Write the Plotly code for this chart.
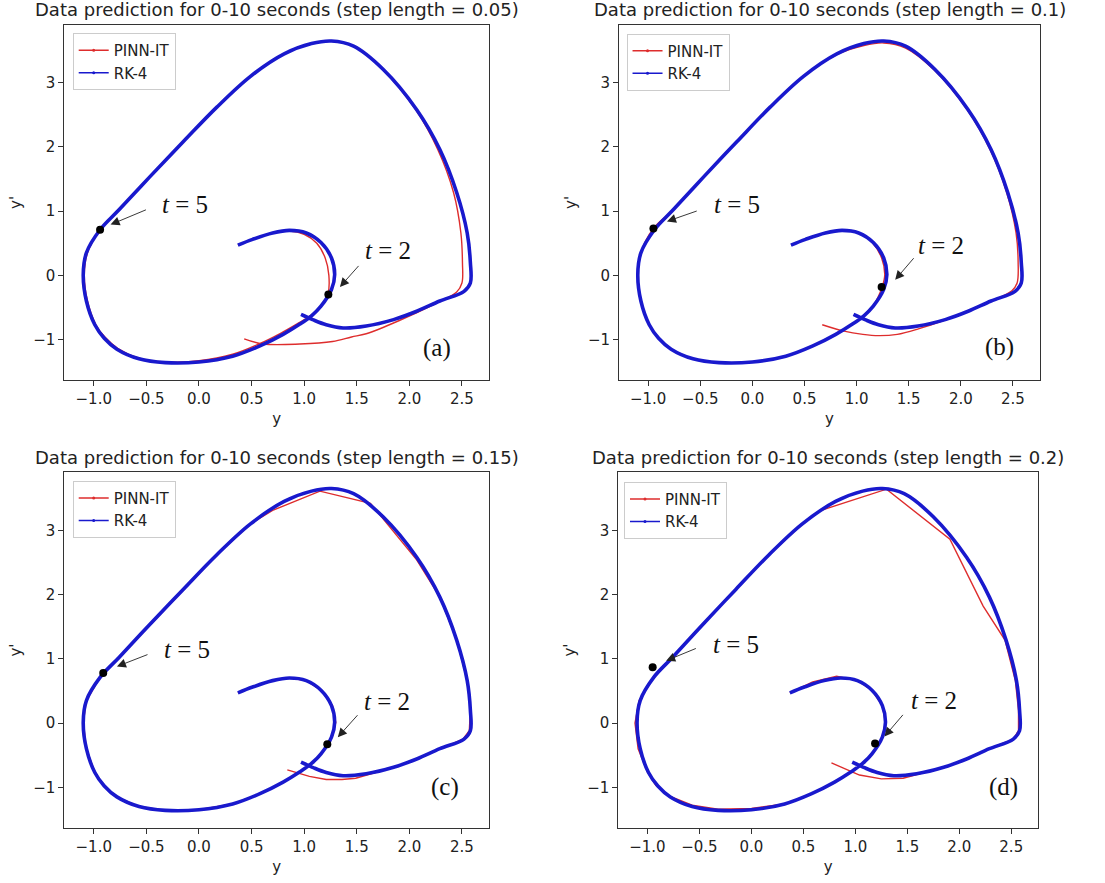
import plotly.graph_objects as go

# Reference trajectory (RK-4), phase plane y vs y'
rk4_y = [0.37, 0.51, 0.70, 0.86, 1.02, 1.16, 1.26, 1.29, 1.26, 1.16, 1.07, 0.96, 0.80, 0.58,
         0.32, 0.00, -0.32, -0.57, -0.78, -0.90, -0.99, -1.07, -1.10, -1.07, -0.94, -0.76, -0.47,
         -0.15, 0.17, 0.49, 0.81, 1.07, 1.26, 1.47, 1.75, 2.07, 2.29, 2.45, 2.55, 2.58, 2.58,
         2.52, 2.29, 2.07, 1.85, 1.59, 1.37, 1.21, 1.08, 0.97]
rk4_dy = [0.47, 0.56, 0.66, 0.70, 0.66, 0.51, 0.27, 0.01, -0.22, -0.48, -0.63, -0.76, -0.92, -1.10,
          -1.26, -1.35, -1.36, -1.30, -1.15, -0.98, -0.77, -0.40, 0.01, 0.35, 0.71, 1.02, 1.53,
          2.08, 2.62, 3.10, 3.45, 3.61, 3.65, 3.57, 3.21, 2.58, 1.96, 1.29, 0.66, 0.20, -0.12,
          -0.25, -0.40, -0.56, -0.69, -0.79, -0.82, -0.77, -0.69, -0.61]

# PINN-IT predictions, step length 0.05
pinn_a_y = [0.37, 0.51, 0.70, 0.86, 1.00, 1.12, 1.20, 1.235, 1.225, 1.15, 1.05, 0.94, 0.78, 0.57,
            0.32, 0.00, -0.32, -0.57, -0.77, -0.89, -0.98, -1.06, -1.09, -1.06, -0.94, -0.76, -0.47,
            -0.15, 0.17, 0.49, 0.81, 1.07, 1.26, 1.47, 1.75, 2.06, 2.27, 2.42, 2.49, 2.505, 2.50,
            2.45, 2.23, 1.91, 1.59, 1.45, 1.27, 0.96, 0.61, 0.43]
pinn_a_dy = [0.47, 0.56, 0.66, 0.69, 0.64, 0.50, 0.27, 0.00, -0.30, -0.50, -0.64, -0.75, -0.90, -1.07,
             -1.23, -1.33, -1.35, -1.29, -1.14, -0.97, -0.77, -0.40, 0.01, 0.35, 0.71, 1.02, 1.53,
             2.08, 2.62, 3.10, 3.45, 3.61, 3.645, 3.565, 3.20, 2.58, 1.96, 1.29, 0.66, 0.19, -0.12,
             -0.26, -0.455, -0.70, -0.91, -0.96, -1.03, -1.07, -1.07, -0.99]

# PINN-IT predictions, step length 0.1
pinn_b_y = [0.37, 0.51, 0.70, 0.86, 1.02, 1.15, 1.24, 1.27, 1.245, 1.16, 1.07, 0.96, 0.80, 0.58,
            0.32, 0.00, -0.32, -0.57, -0.78, -0.90, -0.99, -1.07, -1.10, -1.07, -0.95, -0.76, -0.47,
            -0.15, 0.17, 0.49, 0.81, 1.07, 1.26, 1.47, 1.75, 2.06, 2.28, 2.44, 2.53, 2.55, 2.54,
            2.49, 2.28, 2.06, 1.84, 1.60, 1.39, 1.21, 1.06, 0.88, 0.67]
pinn_b_dy = [0.47, 0.56, 0.66, 0.70, 0.66, 0.51, 0.27, 0.01, -0.18, -0.47, -0.62, -0.76, -0.92, -1.10,
             -1.26, -1.35, -1.36, -1.30, -1.15, -0.98, -0.77, -0.40, 0.01, 0.35, 0.73, 1.02, 1.53,
             2.08, 2.62, 3.10, 3.44, 3.58, 3.62, 3.54, 3.19, 2.58, 1.96, 1.29, 0.66, 0.20, -0.12,
             -0.24, -0.41, -0.56, -0.70, -0.83, -0.92, -0.94, -0.92, -0.87, -0.77]

# PINN-IT predictions, step length 0.15
pinn_c_y = [0.37, 0.51, 0.70, 0.86, 1.02, 1.16, 1.27, 1.30, 1.27, 1.22, 1.16, 1.07, 0.96, 0.80, 0.58,
            0.32, 0.00, -0.32, -0.57, -0.78, -0.90, -0.99, -1.07, -1.10, -1.07, -0.94, -0.76, -0.47,
            -0.15, 0.17, 0.49, 0.70, 1.15, 1.63, 2.07, 2.29, 2.45, 2.55, 2.58, 2.57,
            2.51, 2.29, 2.07, 1.85, 1.63, 1.49, 1.36, 1.21, 1.05, 0.84]
pinn_c_dy = [0.47, 0.56, 0.66, 0.70, 0.66, 0.51, 0.27, 0.01, -0.20, -0.33, -0.48, -0.63, -0.76, -0.92, -1.10,
             -1.26, -1.35, -1.36, -1.30, -1.15, -0.98, -0.77, -0.40, 0.01, 0.35, 0.71, 1.02, 1.53,
             2.08, 2.62, 3.10, 3.31, 3.61, 3.42, 2.54, 1.96, 1.29, 0.66, 0.20, -0.12,
             -0.25, -0.40, -0.56, -0.69, -0.80, -0.86, -0.88, -0.88, -0.83, -0.73]

# PINN-IT predictions, step length 0.2
pinn_d_y = [0.37, 0.59, 0.82, 1.02, 1.16, 1.26, 1.29, 1.26, 1.16, 1.07, 0.96, 0.80, 0.58,
            0.32, 0.00, -0.32, -0.57, -0.80, -0.92, -1.00, -1.09, -1.12, -1.08, -0.94, -0.76, -0.47,
            -0.15, 0.17, 0.49, 0.65, 1.30, 1.91, 2.23, 2.44, 2.54, 2.57, 2.57,
            2.52, 2.29, 2.07, 1.85, 1.60, 1.46, 1.25, 1.04, 0.77]
pinn_d_dy = [0.47, 0.64, 0.73, 0.66, 0.51, 0.27, 0.01, -0.22, -0.48, -0.63, -0.76, -0.92, -1.10,
             -1.26, -1.33, -1.34, -1.28, -1.13, -0.97, -0.76, -0.40, 0.00, 0.35, 0.71, 1.02, 1.53,
             2.08, 2.62, 3.10, 3.30, 3.64, 2.86, 1.82, 1.29, 0.66, 0.20, -0.12,
             -0.25, -0.40, -0.56, -0.69, -0.80, -0.86, -0.87, -0.81, -0.62]

step_lengths = ["0.05", "0.1", "0.15", "0.2"]
panel_tags = ["(a)", "(b)", "(c)", "(d)"]

# Predicted states marked at t = 5 and t = 2
t5_y = [-0.94, -0.95, -0.91, -0.95]
t5_dy = [0.71, 0.73, 0.78, 0.87]
t2_y = [1.23, 1.24, 1.22, 1.19]
t2_dy = [-0.30, -0.18, -0.33, -0.32]

pinn_y = [pinn_a_y, pinn_b_y, pinn_c_y, pinn_d_y]
pinn_dy = [pinn_a_dy, pinn_b_dy, pinn_c_dy, pinn_d_dy]
pinn_shape = ["spline", "spline", "linear", "linear"]

W, H = 1105, 883
x_dom = [[0.0582, 0.4428], [0.5602, 0.9412], [0.0582, 0.4428], [0.5596, 0.9396]]
y_dom = [[0.5697, 0.9717], [0.5697, 0.9717], [0.0626, 0.4649], [0.0626, 0.4649]]
title_y = [1 - 10 / H, 1 - 10 / H, 1 - 457 / H, 1 - 457 / H]
legend_pos = [(0.0658, 0.9626), (0.567, 0.962), (0.0658, 0.4556), (0.5647, 0.4545)]

# arrow tail, arrow tip and label centre for the two time markers
t5_arrow = [((-0.49, 1.03), (-0.84, 0.79), (-0.13, 1.10)),
            ((-0.52, 1.01), (-0.82, 0.84), (-0.15, 1.10)),
            ((-0.475, 1.074), (-0.78, 0.88), (-0.11, 1.14)),
            ((-0.52, 1.17), (-0.82, 0.97), (-0.15, 1.22))]
t2_arrow = [((1.53, 0.17), (1.34, -0.18), (1.80, 0.38)),
            ((1.56, 0.29), (1.37, -0.07), (1.81, 0.47)),
            ((1.52, 0.145), (1.32, -0.22), (1.79, 0.34)),
            ((1.47, 0.15), (1.28, -0.21), (1.76, 0.35))]
tag_pos = [(2.26, -1.13), (2.375, -1.11), (2.34, -0.99), (2.43, -0.99)]

RED = "rgb(222,45,45)"
BLUE = "rgb(25,25,205)"
FONT = "DejaVu Sans"
SERIF = "Liberation Serif"

fig = go.Figure()
annotations = []
layout = {}

for i in range(4):
    sfx = "" if i == 0 else str(i + 1)
    xa, ya = "x" + sfx, "y" + sfx
    leg = "legend" + sfx

    fig.add_trace(go.Scatter(
        x=pinn_y[i], y=pinn_dy[i], mode="lines", name="PINN-IT", showlegend=False,
        line=dict(color=RED, width=1.4, shape=pinn_shape[i], smoothing=1.0),
        xaxis=xa, yaxis=ya))
    fig.add_trace(go.Scatter(
        x=rk4_y, y=rk4_dy, mode="lines", name="RK-4", showlegend=False,
        line=dict(color=BLUE, width=3.6, shape="spline", smoothing=1.0),
        xaxis=xa, yaxis=ya))
    fig.add_trace(go.Scatter(
        x=[t5_y[i], t2_y[i]], y=[t5_dy[i], t2_dy[i]], mode="markers",
        marker=dict(color="black", size=8), showlegend=False,
        xaxis=xa, yaxis=ya, hoverinfo="skip"))
    # legend entries: thin line with a small dot marker
    for nm, col in (("PINN-IT", RED), ("RK-4", BLUE)):
        fig.add_trace(go.Scatter(
            x=[None], y=[None], mode="lines+markers", name=nm,
            line=dict(color=col, width=1.5), marker=dict(color=col, size=3),
            xaxis=xa, yaxis=ya, legend=leg))

    axis_common = dict(showline=True, mirror=True, linecolor="#333", linewidth=1,
                       ticks="outside", ticklen=5, tickwidth=1, tickcolor="#333",
                       showgrid=False, zeroline=False,
                       tickfont=dict(family=FONT, size=15, color="#222"))
    layout["xaxis" + sfx] = dict(
        axis_common, domain=x_dom[i], range=[-1.28, 2.76], anchor=ya,
        tickvals=[-1.0, -0.5, 0.0, 0.5, 1.0, 1.5, 2.0, 2.5], tickformat=".1f",
        title=dict(text="y", font=dict(family=FONT, size=15, color="#222"), standoff=6))
    layout["yaxis" + sfx] = dict(
        axis_common, domain=y_dom[i], range=[-1.63, 3.90], anchor=xa,
        tickvals=[-1, 0, 1, 2, 3], tickformat="d",
        title=dict(text="y'", font=dict(family=FONT, size=15, color="#222"), standoff=7))
    layout[leg] = dict(
        x=legend_pos[i][0], y=legend_pos[i][1], xanchor="left", yanchor="top",
        bgcolor="rgba(255,255,255,0.85)", bordercolor="#cccccc", borderwidth=1,
        font=dict(family=FONT, size=15, color="#222"), tracegroupgap=0, itemwidth=30)

    xc = (x_dom[i][0] + x_dom[i][1]) / 2
    annotations.append(dict(
        text=f"Data prediction for 0-10 seconds (step length = {step_lengths[i]})",
        xref="paper", yref="paper", x=xc, y=title_y[i], xanchor="center", yanchor="middle",
        showarrow=False, font=dict(family=FONT, size=18, color="#222")))

    for tail, tip, lab, txt in ((*t5_arrow[i], "<i>t</i> = 5"), (*t2_arrow[i], "<i>t</i> = 2")):
        annotations.append(dict(
            x=tip[0], y=tip[1], ax=tail[0], ay=tail[1], xref=xa, yref=ya, axref=xa, ayref=ya,
            text="", showarrow=True, arrowhead=2, arrowsize=2.0, arrowwidth=0.9,
            arrowcolor="#222", standoff=0, startstandoff=0))
        annotations.append(dict(
            x=lab[0], y=lab[1], xref=xa, yref=ya, text=txt, showarrow=False,
            font=dict(family=SERIF, size=25, color="#111")))
    annotations.append(dict(
        x=tag_pos[i][0], y=tag_pos[i][1], xref=xa, yref=ya, text=panel_tags[i],
        showarrow=False, font=dict(family=SERIF, size=25, color="#111")))

fig.update_layout(
    width=W, height=H, margin=dict(l=0, r=0, t=0, b=0),
    paper_bgcolor="white", plot_bgcolor="white",
    annotations=annotations, **layout)

fig.write_html("out.html")
